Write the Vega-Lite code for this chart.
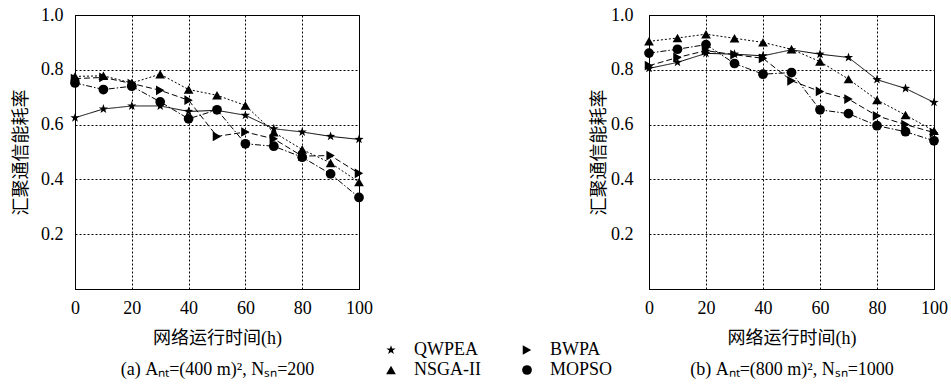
{
  "$schema": "https://vega.github.io/schema/vega-lite/v6.json",
  "padding": {"left": 12, "top": 5, "right": 2, "bottom": 2},
  "bounds": "flush",
  "spacing": 290,
  "data": {
    "values": [
      {"panel": "a", "alg": "QWPEA", "t": 0, "rate": 0.625},
      {"panel": "a", "alg": "QWPEA", "t": 10, "rate": 0.657},
      {"panel": "a", "alg": "QWPEA", "t": 20, "rate": 0.668},
      {"panel": "a", "alg": "QWPEA", "t": 30, "rate": 0.668},
      {"panel": "a", "alg": "QWPEA", "t": 40, "rate": 0.648},
      {"panel": "a", "alg": "QWPEA", "t": 50, "rate": 0.652},
      {"panel": "a", "alg": "QWPEA", "t": 60, "rate": 0.634},
      {"panel": "a", "alg": "QWPEA", "t": 70, "rate": 0.585},
      {"panel": "a", "alg": "QWPEA", "t": 80, "rate": 0.573},
      {"panel": "a", "alg": "QWPEA", "t": 90, "rate": 0.557},
      {"panel": "a", "alg": "QWPEA", "t": 100, "rate": 0.546},
      {"panel": "a", "alg": "NSGA-II", "t": 0, "rate": 0.776},
      {"panel": "a", "alg": "NSGA-II", "t": 10, "rate": 0.778},
      {"panel": "a", "alg": "NSGA-II", "t": 20, "rate": 0.752},
      {"panel": "a", "alg": "NSGA-II", "t": 30, "rate": 0.784},
      {"panel": "a", "alg": "NSGA-II", "t": 40, "rate": 0.728},
      {"panel": "a", "alg": "NSGA-II", "t": 50, "rate": 0.707},
      {"panel": "a", "alg": "NSGA-II", "t": 60, "rate": 0.67},
      {"panel": "a", "alg": "NSGA-II", "t": 70, "rate": 0.572},
      {"panel": "a", "alg": "NSGA-II", "t": 80, "rate": 0.509},
      {"panel": "a", "alg": "NSGA-II", "t": 90, "rate": 0.46},
      {"panel": "a", "alg": "NSGA-II", "t": 100, "rate": 0.39},
      {"panel": "a", "alg": "BWPA", "t": 0, "rate": 0.768},
      {"panel": "a", "alg": "BWPA", "t": 10, "rate": 0.772},
      {"panel": "a", "alg": "BWPA", "t": 20, "rate": 0.75},
      {"panel": "a", "alg": "BWPA", "t": 30, "rate": 0.725},
      {"panel": "a", "alg": "BWPA", "t": 40, "rate": 0.689},
      {"panel": "a", "alg": "BWPA", "t": 50, "rate": 0.557},
      {"panel": "a", "alg": "BWPA", "t": 60, "rate": 0.573},
      {"panel": "a", "alg": "BWPA", "t": 70, "rate": 0.548},
      {"panel": "a", "alg": "BWPA", "t": 80, "rate": 0.485},
      {"panel": "a", "alg": "BWPA", "t": 90, "rate": 0.487},
      {"panel": "a", "alg": "BWPA", "t": 100, "rate": 0.422},
      {"panel": "a", "alg": "MOPSO", "t": 0, "rate": 0.752},
      {"panel": "a", "alg": "MOPSO", "t": 10, "rate": 0.728},
      {"panel": "a", "alg": "MOPSO", "t": 20, "rate": 0.74},
      {"panel": "a", "alg": "MOPSO", "t": 30, "rate": 0.683},
      {"panel": "a", "alg": "MOPSO", "t": 40, "rate": 0.621},
      {"panel": "a", "alg": "MOPSO", "t": 50, "rate": 0.654},
      {"panel": "a", "alg": "MOPSO", "t": 60, "rate": 0.53},
      {"panel": "a", "alg": "MOPSO", "t": 70, "rate": 0.521},
      {"panel": "a", "alg": "MOPSO", "t": 80, "rate": 0.481},
      {"panel": "a", "alg": "MOPSO", "t": 90, "rate": 0.42},
      {"panel": "a", "alg": "MOPSO", "t": 100, "rate": 0.334},
      {"panel": "b", "alg": "QWPEA", "t": 0, "rate": 0.805},
      {"panel": "b", "alg": "QWPEA", "t": 10, "rate": 0.827},
      {"panel": "b", "alg": "QWPEA", "t": 20, "rate": 0.86},
      {"panel": "b", "alg": "QWPEA", "t": 30, "rate": 0.857},
      {"panel": "b", "alg": "QWPEA", "t": 40, "rate": 0.851},
      {"panel": "b", "alg": "QWPEA", "t": 50, "rate": 0.873},
      {"panel": "b", "alg": "QWPEA", "t": 60, "rate": 0.857},
      {"panel": "b", "alg": "QWPEA", "t": 70, "rate": 0.845},
      {"panel": "b", "alg": "QWPEA", "t": 80, "rate": 0.764},
      {"panel": "b", "alg": "QWPEA", "t": 90, "rate": 0.732},
      {"panel": "b", "alg": "QWPEA", "t": 100, "rate": 0.681},
      {"panel": "b", "alg": "NSGA-II", "t": 0, "rate": 0.904},
      {"panel": "b", "alg": "NSGA-II", "t": 10, "rate": 0.916},
      {"panel": "b", "alg": "NSGA-II", "t": 20, "rate": 0.93},
      {"panel": "b", "alg": "NSGA-II", "t": 30, "rate": 0.915},
      {"panel": "b", "alg": "NSGA-II", "t": 40, "rate": 0.9},
      {"panel": "b", "alg": "NSGA-II", "t": 50, "rate": 0.875},
      {"panel": "b", "alg": "NSGA-II", "t": 60, "rate": 0.83},
      {"panel": "b", "alg": "NSGA-II", "t": 70, "rate": 0.766},
      {"panel": "b", "alg": "NSGA-II", "t": 80, "rate": 0.69},
      {"panel": "b", "alg": "NSGA-II", "t": 90, "rate": 0.635},
      {"panel": "b", "alg": "NSGA-II", "t": 100, "rate": 0.577},
      {"panel": "b", "alg": "BWPA", "t": 0, "rate": 0.815},
      {"panel": "b", "alg": "BWPA", "t": 10, "rate": 0.845},
      {"panel": "b", "alg": "BWPA", "t": 20, "rate": 0.87},
      {"panel": "b", "alg": "BWPA", "t": 30, "rate": 0.855},
      {"panel": "b", "alg": "BWPA", "t": 40, "rate": 0.842},
      {"panel": "b", "alg": "BWPA", "t": 50, "rate": 0.76},
      {"panel": "b", "alg": "BWPA", "t": 60, "rate": 0.721},
      {"panel": "b", "alg": "BWPA", "t": 70, "rate": 0.693},
      {"panel": "b", "alg": "BWPA", "t": 80, "rate": 0.632},
      {"panel": "b", "alg": "BWPA", "t": 90, "rate": 0.6},
      {"panel": "b", "alg": "BWPA", "t": 100, "rate": 0.571},
      {"panel": "b", "alg": "MOPSO", "t": 0, "rate": 0.861},
      {"panel": "b", "alg": "MOPSO", "t": 10, "rate": 0.875},
      {"panel": "b", "alg": "MOPSO", "t": 20, "rate": 0.892},
      {"panel": "b", "alg": "MOPSO", "t": 30, "rate": 0.823},
      {"panel": "b", "alg": "MOPSO", "t": 40, "rate": 0.784},
      {"panel": "b", "alg": "MOPSO", "t": 50, "rate": 0.79},
      {"panel": "b", "alg": "MOPSO", "t": 60, "rate": 0.654},
      {"panel": "b", "alg": "MOPSO", "t": 70, "rate": 0.64},
      {"panel": "b", "alg": "MOPSO", "t": 80, "rate": 0.596},
      {"panel": "b", "alg": "MOPSO", "t": 90, "rate": 0.574},
      {"panel": "b", "alg": "MOPSO", "t": 100, "rate": 0.541}
    ]
  },
  "hconcat": [
    {
      "width": 284,
      "height": 274,
      "transform": [{"filter": "datum.panel == 'a'"}],
      "encoding": {
        "x": {
          "field": "t", "type": "quantitative",
          "scale": {"domain": [0, 100], "nice": false},
          "axis": {
            "values": [0, 20, 40, 60, 80, 100],
            "labelExpr": "datum.value == 0 ? '0\u00a0\u00a0\u00a0\u00a0\u00a0\u00a0' : datum.label",
            "title": ["网络运行时间(h)", "(a) Aₙₜ=(400 m)², Nₛₙ=200"]
          }
        },
        "y": {
          "field": "rate", "type": "quantitative",
          "scale": {"domain": [0, 1], "nice": false},
          "axis": {
            "values": [0.2, 0.4, 0.6, 0.8, 1.0],
            "format": ".1f",
            "labelPadding": 12,
            "titlePadding": 10,
            "title": "汇聚通信能耗率"
          }
        }
      },
      "layer": [
        {
          "mark": {"type": "line", "color": "black", "strokeWidth": 1},
          "encoding": {
            "strokeDash": {
              "field": "alg", "type": "nominal",
              "scale": {"domain": ["QWPEA", "NSGA-II", "BWPA", "MOPSO"], "range": [[1, 0], [2, 2], [6, 3], [6, 2, 1.5, 2]]},
              "legend": {
                "orient": "none", "legendX": 307, "legendY": 326, "columns": 2,
                "title": null, "symbolType": "stroke", "symbolSize": 400, "symbolStrokeWidth": 1,
                "symbolStrokeColor": "black", "labelOffset": 14, "columnPadding": 37, "rowPadding": 2,
                "labelFontSize": 18, "labelFont": "Liberation Serif", "labelColor": "black", "padding": 0,
                "encode": {
                  "symbols": {
                    "update": {
                      "shape": {"value": {"expr": "datum.value === 'QWPEA' ? 'M-1.4,0H1.4M0,-0.5L0.118,-0.162L0.476,-0.155L0.19,0.062L0.294,0.405L0,0.2L-0.294,0.405L-0.19,0.062L-0.476,-0.155L-0.118,-0.162Z' : datum.value === 'BWPA' ? 'M-1.4,0H1.4M-0.3,-0.45L0.5,0L-0.3,0.45Z' : datum.value === 'NSGA-II' ? 'M-1.4,0H1.4M0,-0.45L0.45,0.35L-0.45,0.35Z' : 'M-1.4,0H1.4M0.45,0A0.45,0.45,0,1,1,-0.45,0A0.45,0.45,0,1,1,0.45,0Z'"}},
                      "fill": {"value": "black"}
                    }
                  }
                }
              }
            }
          }
        },
        {
          "mark": {"type": "point", "filled": true, "color": "black", "opacity": 1},
          "encoding": {
            "shape": {
              "field": "alg", "type": "nominal",
              "scale": {"domain": ["QWPEA", "NSGA-II", "BWPA", "MOPSO"], "range": ["M0,-1L0.235,-0.324L0.951,-0.309L0.38,0.124L0.588,0.809L0,0.4L-0.588,0.809L-0.38,0.124L-0.951,-0.309L-0.235,-0.324Z", "triangle-up", "triangle-right", "circle"]},
              "legend": null
            },
            "size": {
              "field": "alg", "type": "nominal",
              "scale": {"domain": ["QWPEA", "NSGA-II", "BWPA", "MOPSO"], "range": [95, 95, 95, 120]},
              "legend": null
            }
          }
        }
      ]
    },
    {
      "width": 285,
      "height": 274,
      "transform": [{"filter": "datum.panel == 'b'"}],
      "encoding": {
        "x": {
          "field": "t", "type": "quantitative",
          "scale": {"domain": [0, 100], "nice": false},
          "axis": {
            "values": [0, 20, 40, 60, 80, 100],
            "labelExpr": "datum.value == 0 ? '0\u00a0\u00a0\u00a0\u00a0\u00a0\u00a0\u00a0\u00a0' : datum.label",
            "title": ["网络运行时间(h)", "(b) Aₙₜ=(800 m)², Nₛₙ=1000"]
          }
        },
        "y": {
          "field": "rate", "type": "quantitative",
          "scale": {"domain": [0, 1], "nice": false},
          "axis": {
            "values": [0.2, 0.4, 0.6, 0.8, 1.0],
            "format": ".1f",
            "labelPadding": 16,
            "titlePadding": 2,
            "title": "汇聚通信能耗率"
          }
        }
      },
      "layer": [
        {
          "mark": {"type": "line", "color": "black", "strokeWidth": 1},
          "encoding": {
            "strokeDash": {
              "field": "alg", "type": "nominal",
              "scale": {"domain": ["QWPEA", "NSGA-II", "BWPA", "MOPSO"], "range": [[1, 0], [2, 2], [6, 3], [6, 2, 1.5, 2]]}
            }
          }
        },
        {
          "mark": {"type": "point", "filled": true, "color": "black", "opacity": 1},
          "encoding": {
            "shape": {
              "field": "alg", "type": "nominal",
              "scale": {"domain": ["QWPEA", "NSGA-II", "BWPA", "MOPSO"], "range": ["M0,-1L0.235,-0.324L0.951,-0.309L0.38,0.124L0.588,0.809L0,0.4L-0.588,0.809L-0.38,0.124L-0.951,-0.309L-0.235,-0.324Z", "triangle-up", "triangle-right", "circle"]},
              "legend": null
            },
            "size": {
              "field": "alg", "type": "nominal",
              "scale": {"domain": ["QWPEA", "NSGA-II", "BWPA", "MOPSO"], "range": [95, 95, 95, 120]},
              "legend": null
            }
          }
        }
      ]
    }
  ],
  "config": {
    "font": "Liberation Serif",
    "view": {"stroke": "black", "strokeWidth": 1},
    "axis": {
      "domainColor": "black",
      "ticks": false,
      "grid": true,
      "gridColor": "black",
      "gridOpacity": 1,
      "gridDash": [2, 2],
      "labelFont": "Liberation Serif",
      "labelFontSize": 18,
      "labelColor": "black",
      "titleFont": "Liberation Serif, Noto Sans CJK SC",
      "titleFontSize": 18,
      "titleFontWeight": "normal",
      "titleColor": "black"
    },
    "axisX": {"labelPadding": 10, "titlePadding": 12, "titleLineHeight": 31, "labelFlush": false}
  }
}
